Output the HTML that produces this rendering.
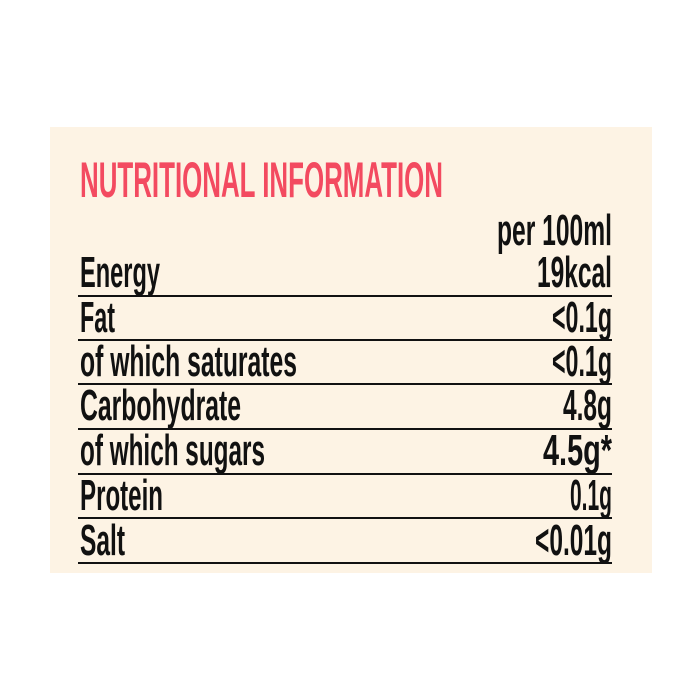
<!DOCTYPE html>
<html><head><meta charset="utf-8"><style>
html,body{margin:0;padding:0;background:#fff;}
svg{display:block;}
text{font-family:"Liberation Sans Narrow","Liberation Sans",sans-serif;font-weight:bold;}
</style></head><body>
<svg width="700" height="700" viewBox="0 0 700 700" xmlns="http://www.w3.org/2000/svg">
<rect x="50" y="127" width="602" height="446" fill="#fdf3e4"/>
<text x="80" y="197" font-size="50" fill="#f34a60" textLength="363" lengthAdjust="spacingAndGlyphs" font-weight="normal">NUTRITIONAL INFORMATION</text>
<g fill="#111" font-size="44">
<text x="497" y="245" textLength="115" lengthAdjust="spacingAndGlyphs" font-weight="normal">per 100ml</text>
<text x="80" y="287" textLength="80" lengthAdjust="spacingAndGlyphs">Energy</text>
<text x="537" y="287" textLength="75" lengthAdjust="spacingAndGlyphs">19kcal</text>
<text x="80" y="332" textLength="35" lengthAdjust="spacingAndGlyphs">Fat</text>
<text x="552" y="332" textLength="60" lengthAdjust="spacingAndGlyphs">&lt;0.1g</text>
<text x="80" y="376" textLength="217" lengthAdjust="spacingAndGlyphs">of which saturates</text>
<text x="552" y="376" textLength="60" lengthAdjust="spacingAndGlyphs">&lt;0.1g</text>
<text x="80" y="420" textLength="161" lengthAdjust="spacingAndGlyphs">Carbohydrate</text>
<text x="563" y="420" textLength="49" lengthAdjust="spacingAndGlyphs">4.8g</text>
<text x="80" y="465" textLength="185" lengthAdjust="spacingAndGlyphs">of which sugars</text>
<text x="543" y="465" textLength="69" lengthAdjust="spacingAndGlyphs">4.5g*</text>
<text x="80" y="510" textLength="83" lengthAdjust="spacingAndGlyphs">Protein</text>
<text x="570" y="510" textLength="42" lengthAdjust="spacingAndGlyphs">0.1g</text>
<text x="80" y="555" textLength="45" lengthAdjust="spacingAndGlyphs">Salt</text>
<text x="535" y="555" textLength="77" lengthAdjust="spacingAndGlyphs">&lt;0.01g</text>
</g>
<g stroke="#111" stroke-width="2">
<line x1="78" x2="612" y1="296" y2="296"/>
<line x1="78" x2="612" y1="340" y2="340"/>
<line x1="78" x2="612" y1="384" y2="384"/>
<line x1="78" x2="612" y1="429" y2="429"/>
<line x1="78" x2="612" y1="474" y2="474"/>
<line x1="78" x2="612" y1="518" y2="518"/>
<line x1="78" x2="612" y1="563" y2="563"/>
</g>
</svg>
</body></html>
